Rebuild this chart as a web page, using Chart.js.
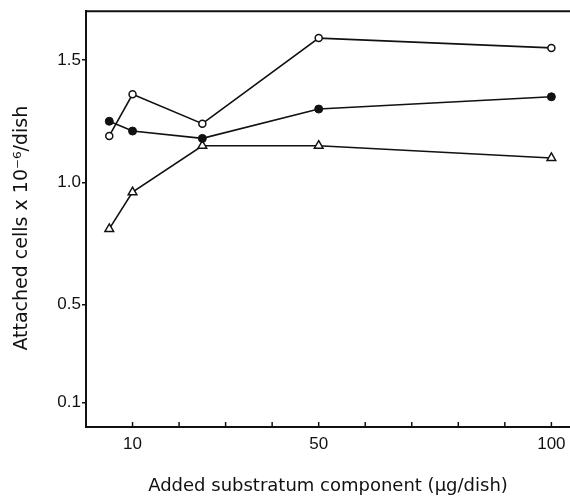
<!DOCTYPE html>
<html>
<head>
<meta charset="utf-8">
<script src="https://cdn.jsdelivr.net/npm/chart.js@4"></script>
<style>
  html, body { margin: 0; padding: 0; background: #fff; }
  #wrap { width: 570px; height: 499px; }
</style>
</head>
<body>
<div id="wrap"><canvas id="cellChart"></canvas></div>
<script>
// added substratum component, ug/dish
const doses = [5, 10, 25, 50, 100];
// attached cells x 10^-6 / dish
const openCircles = [1.19, 1.36, 1.24, 1.59, 1.55];
const filledCircles = [1.25, 1.21, 1.18, 1.30, 1.35];
const triangles = [0.81, 0.96, 1.15, 1.15, 1.10];

const xTickVals = [10, 20, 30, 40, 50, 60, 70, 80, 90, 100];
const xLabelVals = [10, 50, 100];
const yTickVals = [0.1, 0.5, 1.0, 1.5];

const ink = '#111';
const titleFont = '"DejaVu Sans", sans-serif';
const tickFont = '"Liberation Sans", sans-serif';

function pts(vals){
    return doses.map((d, i) => ({x: d, y: vals[i]}));
}

// frame line on top + small inward ticks on the x axis
const frameTicks = {
    id: 'frameTicks',
    afterDraw(chart){
        const ctx = chart.ctx;
        const area = chart.chartArea;
        const xs = chart.scales.x;
        ctx.save();
        ctx.strokeStyle = ink;
        ctx.lineWidth = 2;
        ctx.beginPath();
        ctx.moveTo(area.left - 1, area.top);
        ctx.lineTo(area.right, area.top);
        ctx.stroke();
        ctx.lineWidth = 1.5;
        for (let v of xTickVals) {
            let px = xs.getPixelForValue(v);
            ctx.beginPath();
            ctx.moveTo(px, area.bottom);
            ctx.lineTo(px, area.bottom - 5);
            ctx.stroke();
        }
        ctx.restore();
    }
};

let cellChart = new Chart(document.getElementById('cellChart'), {
    type: 'line',
    data: {
        datasets: [
            {label: 'open', data: pts(openCircles), borderColor: ink, borderWidth: 1.6,
             pointStyle: 'circle', pointRadius: 3.5, pointBackgroundColor: '#fff', pointBorderColor: ink, pointBorderWidth: 1.5},
            {label: 'filled', data: pts(filledCircles), borderColor: ink, borderWidth: 1.6,
             pointStyle: 'circle', pointRadius: 4, pointBackgroundColor: ink, pointBorderColor: ink, pointBorderWidth: 1},
            {label: 'triangle', data: pts(triangles), borderColor: ink, borderWidth: 1.6,
             pointStyle: 'triangle', pointRadius: 5, pointBackgroundColor: '#fff', pointBorderColor: ink, pointBorderWidth: 1.5}
        ]
    },
    options: {
        responsive: true,
        maintainAspectRatio: false,
        animation: false,
        layout: {autoPadding: false, padding: {top: 9, right: 0, left: 0, bottom: 0}},
        plugins: {legend: {display: false}, tooltip: {enabled: false}},
        scales: {
            x: {
                type: 'linear',
                min: 0,
                max: 104,
                afterFit: (s) => { s.height = 72; s.paddingLeft = 0; s.paddingRight = 0; },
                afterBuildTicks: (s) => { s.ticks = xLabelVals.map(v => ({value: v})); },
                border: {color: ink, width: 2},
                grid: {drawOnChartArea: false, drawTicks: false},
                ticks: {color: ink, padding: 7, autoSkip: false, maxRotation: 0,
                        font: {family: tickFont, size: 17}},
                title: {display: true, text: 'Added substratum component (\u03bcg/dish)', color: ink,
                        font: {family: titleFont, size: 18}, padding: {top: 0, bottom: 2}}
            },
            y: {
                min: 0,
                max: 1.7,
                afterFit: (s) => { s.width = 86; },
                afterBuildTicks: (s) => { s.ticks = yTickVals.map(v => ({value: v})); },
                border: {color: ink, width: 2},
                grid: {drawOnChartArea: false, drawTicks: true, tickLength: 4, color: ink, lineWidth: 1.5},
                ticks: {color: ink, padding: 1, font: {family: tickFont, size: 17},
                        callback: (v) => Number(v).toFixed(1)},
                title: {display: true, text: 'Attached cells x 10\u207b\u2076/dish   ', color: ink,
                        font: {family: titleFont, size: 19}, padding: {top: 11, bottom: 0}}
            }
        }
    },
    plugins: [frameTicks]
});
</script>
</body>
</html>
